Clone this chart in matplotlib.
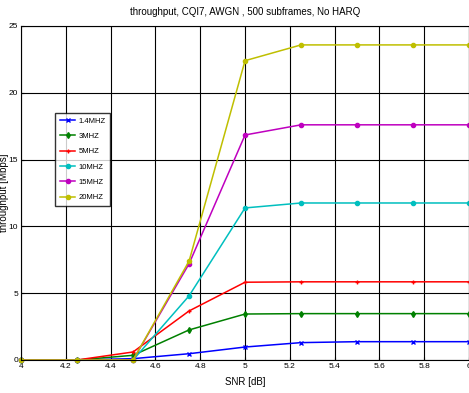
import numpy as np
import matplotlib.pyplot as plt

plt.rcParams['font.family'] = ['Liberation Sans', 'DejaVu Sans']

snr = [4, 4.25, 4.5, 4.75, 5, 5.25, 5.5, 5.75, 6]
bw_labels = ['1.4MHZ', '3MHZ', '5MHZ', '10MHZ', '15MHZ', '20MHZ']
tp_1_4 = [0, 0, 0.1, 0.47, 0.97, 1.3, 1.37, 1.37, 1.37]
tp_3 = [0, 0, 0.35, 2.25, 3.44, 3.47, 3.47, 3.47, 3.47]
tp_5 = [0, 0, 0.6, 3.67, 5.82, 5.85, 5.85, 5.85, 5.85]
tp_10 = [0, 0, 0, 4.8, 11.38, 11.75, 11.75, 11.75, 11.75]
tp_15 = [0, 0, 0, 7.2, 16.84, 17.6, 17.6, 17.6, 17.6]
tp_20 = [0, 0, 0, 7.4, 22.4, 23.58, 23.58, 23.58, 23.58]

series = [tp_1_4, tp_3, tp_5, tp_10, tp_15, tp_20]
colors = ['#0000ff', '#008000', '#ff0000', '#00bfbf', '#bf00bf', '#bfbf00']
markers = ['x', 'd', '+', 'o', 'o', 'o']

fig = plt.figure(figsize=(4.69, 3.93), dpi=100)
ax = fig.add_axes([0.045, 0.084, 0.955, 0.85])

for y, c, m, lab in zip(series, colors, markers, bw_labels):
    ax.plot(snr, y, color=c, marker=m, markersize=3, lw=1.1, label=lab,
            markeredgewidth=1.0, clip_on=False)

ax.set_xlim(4, 6)
ax.set_ylim(0, 25)
ax.set_xticks(np.arange(4, 6.01, 0.2))
ax.set_xticklabels(['4', '4.2', '4.4', '4.6', '4.8', '5', '5.2', '5.4', '5.6', '5.8', '6'])
ax.set_yticks([0, 5, 10, 15, 20, 25])
ax.tick_params(labelsize=6, length=2, direction='in', pad=2)
ax.grid(True, color='k', lw=0.8)
ax.set_xlabel('SNR [dB]', fontsize=7, labelpad=5)
ax.set_ylabel('throughput [Mbps]', fontsize=7)
ax.yaxis.set_label_coords(-0.028, 0.5)
ax.set_title('throughput, CQI7, AWGN , 500 subframes, No HARQ', fontsize=7, pad=8)
for s in ax.spines.values():
    s.set_color('k')
    s.set_linewidth(0.8)

leg = ax.legend(loc='upper left', bbox_to_anchor=(0.068, 0.752), fontsize=5.5,
                frameon=True, fancybox=False, handlelength=2.0,
                handletextpad=0.4, labelspacing=1.05, borderpad=0.6)
leg.get_frame().set_edgecolor('k')
leg.get_frame().set_linewidth(1.0)

fig.savefig('out.png', dpi=100)
